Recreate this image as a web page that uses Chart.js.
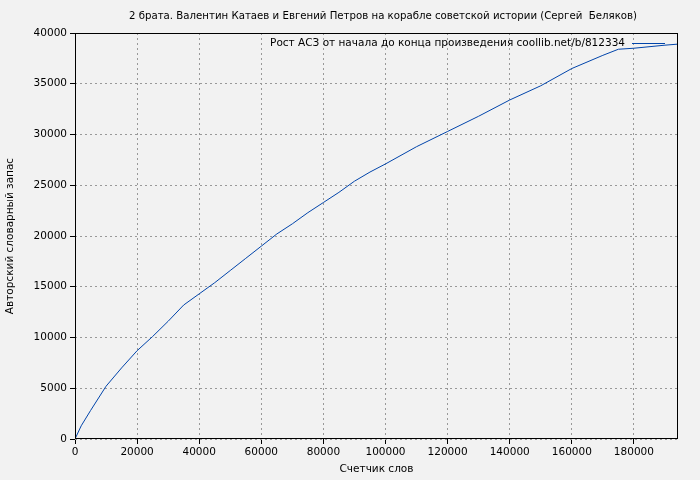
<!DOCTYPE html>
<html><head><meta charset="utf-8">
<script src="https://cdn.jsdelivr.net/npm/chart.js@4"></script>
<style>body{margin:0;background:#f2f2f2}#c{width:700px;height:480px}</style>
</head><body><div id="c"><canvas id="chart"></canvas></div>
<script>
var titleText = "2 брата. Валентин Катаев и Евгений Петров на корабле советской истории (Сергей  Беляков)";
var legendText = "Рост АСЗ от начала до конца произведения coollib.net/b/812334";
var wordsX = [0,2000,5000,10000,15000,20000,25000,30000,35000,40000,45000,50000,55000,60000,65000,70000,75000,80000,85000,90000,95000,100000,110000,120000,130000,140000,150000,160000,170000,175000,180000,190000,194000];
var vocabY = [0,1300,2800,5200,7000,8700,10100,11600,13200,14300,15400,16600,17800,19000,20200,21200,22300,23300,24300,25400,26300,27100,28800,30300,31800,33400,34800,36500,37800,38400,38500,38800,38900];
var points = wordsX.map(function(x, i){ return {x: x, y: vocabY[i]}; });
var font = "'DejaVu Sans', sans-serif";

var extras = {
  id: 'extras',
  afterDraw: function(chart) {
    var ctx = chart.ctx, a = chart.chartArea;
    ctx.save();
    ctx.fillStyle = '#000';
    ctx.font = '10.2px ' + font;
    ctx.textAlign = 'center'; ctx.textBaseline = 'middle';
    ctx.fillText(titleText, 383, 16);
    ctx.font = '10.5px ' + font;
    ctx.textAlign = 'right';
    ctx.fillText(legendText, 625, 43);
    ctx.strokeStyle = '#0044aa'; ctx.lineWidth = 1;
    ctx.beginPath(); ctx.moveTo(632, 43.5); ctx.lineTo(665, 43.5); ctx.stroke();
    ctx.strokeStyle = '#000';
    ctx.strokeRect(a.left + 0.5, a.top + 0.5, a.right - a.left - 1, a.bottom - a.top - 1);
    ctx.restore();
  }
};

function plain(v){ return String(v); }

new Chart(document.getElementById('chart'), {
  type: 'line',
  data: { datasets: [{ data: points, borderColor: '#0044aa', borderWidth: 1, pointRadius: 0, fill: false, tension: 0 }] },
  options: {
    responsive: true, maintainAspectRatio: false, animation: false,
    layout: { padding: { top: 33, right: 22 } },
    plugins: { legend: { display: false }, tooltip: { enabled: false } },
    scales: {
      x: {
        type: 'linear', min: 0, max: 194200,
        afterBuildTicks: function(s){ s.ticks = [0,20000,40000,60000,80000,100000,120000,140000,160000,180000].map(function(v){return {value:v};}); },
        ticks: { color: '#000', font: { family: font, size: 10.5 }, maxRotation: 0, padding: 2, callback: plain },
        grid: { color: '#999', tickLength: 5, tickColor: '#000' },
        border: { display: false, dash: [2, 3] },
        title: { display: true, text: 'Счетчик слов', color: '#000', font: { family: font, size: 10.5 }, padding: { top: 2 } },
        afterFit: function(s){ s.height = 41; }
      },
      y: {
        min: 0, max: 40000,
        ticks: { stepSize: 5000, color: '#000', font: { family: font, size: 10.5 }, padding: 3, callback: plain },
        grid: { color: '#999', tickLength: 5, tickColor: '#000' },
        border: { display: false, dash: [2, 3] },
        title: { display: true, text: 'Авторский словарный запас', color: '#000', font: { family: font, size: 10.5 } },
        afterFit: function(s){ s.width = 75; }
      }
    }
  },
  plugins: [extras]
});
</script></body></html>
